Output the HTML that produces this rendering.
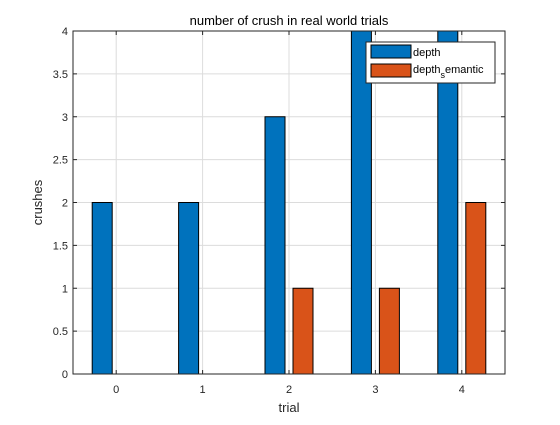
<!DOCTYPE html>
<html><head><meta charset="utf-8"><style>body{margin:0;background:#fff}svg{font-family:"Liberation Sans",sans-serif}</style></head>
<body>
<svg id="c" width="560" height="420" xmlns="http://www.w3.org/2000/svg"></svg>
<script>
const categories=[0,1,2,3,4];
const depth=[2,2,3,4,4];
const depthSemantic=[0,0,1,1,2];
const yTicks=[0,0.5,1,1.5,2,2.5,3,3.5,4];
const yTickLabels=["0","0.5","1","1.5","2","2.5","3","3.5","4"];
const L=73,R=505,T=31,B=374;
const xs=v=>L+(v+0.5)/5*(R-L);
const ys=v=>B-v/4*(B-T);
const svg=document.getElementById('c');
const NS='http://www.w3.org/2000/svg';
function mk(tag,at,name,txt){const e=document.createElementNS(NS,tag);for(const k in at)e.setAttribute(k,at[k]);


if(txt!==undefined)e.textContent=txt;svg.appendChild(e);return e;}
mk('rect',{x:L,y:T,width:R-L,height:B-T,fill:'#fff'},'plot-area');
categories.forEach(c=>{mk('line',{x1:xs(c),x2:xs(c),y1:T,y2:B,stroke:'#dcdcdc','stroke-width':1},'x-grid-line');});
yTicks.forEach(v=>{mk('line',{x1:L,x2:R,y1:ys(v),y2:ys(v),stroke:'#dcdcdc','stroke-width':1},'y-grid-line');});
const u=(R-L)/5;const bw=20/86.4*u;const off=4/86.4*u;
categories.forEach((c,i)=>{
 if(depth[i]>0)mk('rect',{x:xs(c)-off-bw,y:ys(depth[i]),width:bw,height:ys(0)-ys(depth[i]),fill:'#0072bd',stroke:'#000','stroke-width':1},'bar-depth-'+c);
 if(depthSemantic[i]>0)mk('rect',{x:xs(c)+off,y:ys(depthSemantic[i]),width:bw,height:ys(0)-ys(depthSemantic[i]),fill:'#d95319',stroke:'#000','stroke-width':1},'bar-depth-semantic-'+c);
});
mk('rect',{x:L,y:T,width:R-L,height:B-T,fill:'none',stroke:'#262626','stroke-width':1},'axes-box');
categories.forEach(c=>{
 mk('line',{x1:xs(c),x2:xs(c),y1:B,y2:B-4,stroke:'#262626'},'x-tick');
 mk('line',{x1:xs(c),x2:xs(c),y1:T,y2:T+4,stroke:'#262626'},'x-tick-top');
 mk('text',{x:xs(c),y:B+19,'font-size':11,'text-anchor':'middle',fill:'#262626'},'x-tick-label',String(c));
});
yTicks.forEach((v,i)=>{
 mk('line',{x1:L,x2:L+4,y1:ys(v),y2:ys(v),stroke:'#262626'},'y-tick');
 mk('line',{x1:R,x2:R-4,y1:ys(v),y2:ys(v),stroke:'#262626'},'y-tick-right');
 mk('text',{x:L-5,y:ys(v)+4,'font-size':11,'text-anchor':'end',fill:'#262626'},'y-tick-label',yTickLabels[i]);
});
mk('text',{x:(L+R)/2,y:25,'font-size':13,'text-anchor':'middle',fill:'#000'},'chart-title','number of crush in real world trials');
mk('text',{x:(L+R)/2,y:412,'font-size':13,'text-anchor':'middle',fill:'#262626'},'x-axis-title','trial');
mk('text',{x:42,y:(T+B)/2,'font-size':13,'text-anchor':'middle',fill:'#262626',transform:'rotate(-90 42 '+((T+B)/2)+')'},'y-axis-title','crushes');
mk('rect',{x:366,y:42,width:129,height:41,fill:'#fff',stroke:'#262626','stroke-width':1},'legend-box');
mk('rect',{x:371,y:45,width:40,height:13,fill:'#0072bd',stroke:'#000'},'legend-swatch-depth');
mk('text',{x:413,y:56,'font-size':11,fill:'#000'},'legend-label-depth','depth');
mk('rect',{x:371,y:64,width:40,height:13,fill:'#d95319',stroke:'#000'},'legend-swatch-depth-semantic');
const t=mk('text',{x:413,y:73,'font-size':11,fill:'#000'},'legend-label-depth-semantic');
t.innerHTML='depth<tspan dy="5" font-size="9">s</tspan><tspan dy="-5">emantic</tspan>';
</script>
</body></html>
